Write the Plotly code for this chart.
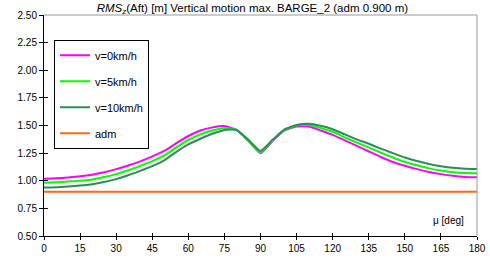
import plotly.graph_objects as go

deg = list(range(0, 181, 5))
v0 = [1.018, 1.022, 1.03, 1.04, 1.055, 1.077, 1.105, 1.138, 1.175, 1.22, 1.27, 1.34, 1.405, 1.455, 1.483,
      1.495, 1.46, 1.36, 1.25, 1.36, 1.455, 1.49, 1.49, 1.455, 1.415, 1.365, 1.315, 1.265, 1.215,
      1.17, 1.135, 1.105, 1.08, 1.06, 1.045, 1.035, 1.031]
v5 = [0.983, 0.986, 0.993, 1.0, 1.012, 1.033, 1.06, 1.095, 1.135, 1.178, 1.23, 1.302, 1.37, 1.42, 1.455,
      1.478, 1.46, 1.36, 1.255, 1.365, 1.46, 1.50, 1.505, 1.478, 1.443, 1.393, 1.345, 1.30, 1.255,
      1.21, 1.17, 1.14, 1.112, 1.092, 1.078, 1.07, 1.068]
v10 = [0.938, 0.941, 0.948, 0.956, 0.968, 0.988, 1.015, 1.05, 1.09, 1.133, 1.185, 1.262, 1.33, 1.38,
       1.425, 1.46, 1.46, 1.37, 1.27, 1.37, 1.465, 1.505, 1.515, 1.497, 1.466, 1.42, 1.375, 1.335,
       1.29, 1.25, 1.21, 1.178, 1.152, 1.132, 1.117, 1.109, 1.107]
adm = [0.9] * len(deg)

names = ["v=0km/h", "v=5km/h", "v=10km/h", "adm"]
series = [v0, v5, v10, adm]
colors = ["#FF00FF", "#00FF00", "#2E8B57", "#FF6A13"]

x_ticks = list(range(0, 181, 15))
y_ticks = [0.5, 0.75, 1.0, 1.25, 1.5, 1.75, 2.0, 2.25, 2.5]

FONT = "Liberation Sans, Arial, sans-serif"

fig = go.Figure()
for i, (n, s, c) in enumerate(zip(names, series, colors)):
    fig.add_trace(go.Scatter(x=deg, y=s, name=n, mode="lines", legendgroup="g%d" % i,
                             line=dict(color=c, width=2, shape="spline", smoothing=0.5)))

common_ax = dict(showgrid=False, zeroline=False, automargin=False)
fig.update_layout(
    width=490, height=264,
    margin=dict(l=44, r=13, t=15, b=28),
    paper_bgcolor="white", plot_bgcolor="white",
    font=dict(family=FONT, size=10, color="black"),
    title=dict(text="<i>RMS</i><sub><i>z</i></sub>(Aft) [m] Vertical motion max. BARGE_2 (adm 0.900 m)",
               x=0.515, xanchor="center", y=0.97, yanchor="middle",
               font=dict(family=FONT, size=11.5, color="black")),
    xaxis=dict(range=[0, 180], tickvals=x_ticks, ticks="outside", ticklen=3,
               showline=True, linecolor="black", linewidth=1, tickcolor="black",
               **common_ax),
    yaxis=dict(range=[0.5, 2.5], tickvals=y_ticks, tickformat=".2f", ticks="outside",
               ticklen=4, showline=True, linecolor="black", linewidth=1, tickcolor="black",
               **common_ax),
    xaxis2=dict(range=[0, 180], tickvals=x_ticks, ticks="inside", ticklen=3, overlaying="x",
                showticklabels=False, showline=False, tickcolor="black", **common_ax),
    yaxis2=dict(range=[0.5, 2.5], tickvals=y_ticks, ticks="inside", ticklen=4, overlaying="y",
                showticklabels=False, showline=False, tickcolor="black", **common_ax),
    legend=dict(x=0.023, y=0.888, xanchor="left", yanchor="top",
                bordercolor="black", borderwidth=1, bgcolor="white",
                font=dict(family=FONT, size=11), tracegroupgap=7, itemwidth=30),
    showlegend=True,
)
# invisible trace to activate the secondary axes
fig.add_trace(go.Scatter(x=[None], y=[None], xaxis="x2", yaxis="y2", showlegend=False))

# gray top and right frame
fig.add_shape(type="line", xref="paper", yref="paper", x0=0, x1=1, y0=1, y1=1,
              line=dict(color="#999999", width=1))
fig.add_shape(type="line", xref="paper", yref="paper", x0=1, x1=1, y0=0, y1=1,
              line=dict(color="#999999", width=1))

fig.add_annotation(text="\u03bc [deg]", xref="paper", yref="paper", x=0.975, y=0.07,
                   xanchor="right", yanchor="middle", showarrow=False,
                   font=dict(family=FONT, size=10, color="black"))

fig.write_html("out.html", config={"displayModeBar": False},
               post_script="document.body.style.margin='0';document.body.style.padding='0';")
